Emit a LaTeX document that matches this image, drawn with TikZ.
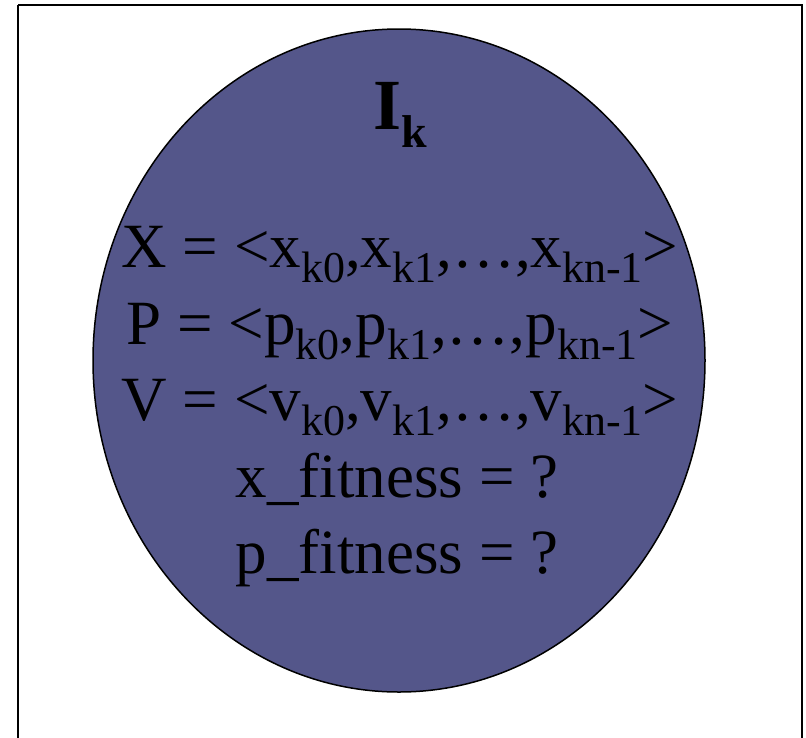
\documentclass[tikz,border=0pt]{standalone}
\usepackage{fontspec}
\setmainfont{Liberation Serif}
\definecolor{ballfill}{RGB}{84,86,138}
\newcommand\sbx[1]{\raisebox{-15pt}{\fontsize{44}{44}\selectfont #1}}
\begin{document}
\begin{tikzpicture}[x=1pt,y=-1pt,
  frame/.style={draw=black,line width=2pt},
  ball/.style={draw=black,line width=1.5pt,fill=ballfill},
  txt/.style={anchor=base,inner sep=0pt,font=\fontsize{63}{63}\selectfont},
  ttl/.style={anchor=base,inner sep=0pt,font=\fontsize{72}{72}\selectfont\bfseries}]
\useasboundingbox (0,0) rectangle (806,737);
\draw[frame] (18,5) -- (802,5) -- (802,760) (18,5) -- (18,760);
\path[ball] (399,360.5) ellipse [x radius=306, y radius=331.5];
\node[ttl] (title) at (400,129) {I\raisebox{-18pt}{\fontsize{46}{46}\selectfont k}};
\node[txt] (lx) at (400,267) {X = <x\sbx{k0},x\sbx{k1},…,x\sbx{kn-1}>};
\node[txt] (lp) at (400,344) {P = <p\sbx{k0},p\sbx{k1},…,p\sbx{kn-1}>};
\node[txt] (lv) at (400,420) {V = <v\sbx{k0},v\sbx{k1},…,v\sbx{kn-1}>};
\node[txt] (lxf) at (397,497) {x\_fitness = ?};
\node[txt] (lpf) at (397,573) {p\_fitness = ?};
\end{tikzpicture}
\end{document}
